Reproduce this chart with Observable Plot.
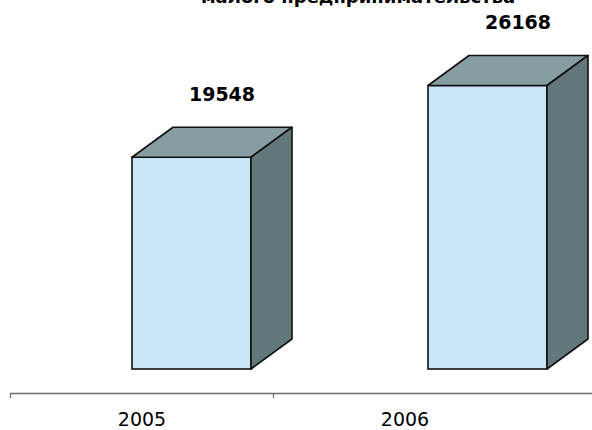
<!DOCTYPE html>
<html>
<head>
<meta charset="utf-8">
<script src="https://cdn.jsdelivr.net/npm/d3@7"></script>
<script src="https://cdn.jsdelivr.net/npm/@observablehq/plot@0.6"></script>
<style>
  html, body { margin: 0; padding: 0; background: #fff; }
  #wrap { position: relative; width: 592px; height: 430px; overflow: hidden; font-family: "DejaVu Sans", sans-serif; }
  #wrap > svg, #wrap > div.layer { position: absolute; left: 0; top: 0; }
  #title { position: absolute; left: 0; width: 716px; text-align: center; top: -14px; font: bold 18px "DejaVu Sans", sans-serif; color: #000; white-space: nowrap; line-height: normal; }
</style>
</head>
<body>
<div id="wrap"></div>
<script>
const years = ["2005", "2006"];
const values = [19548, 26168];
const titleText = "малого предпринимательства";

const data = years.map((year, i) => ({year, value: values[i]}));

const FRONT = "#c9e7f8", TOP = "#869ea2", SIDE = "#63787a", EDGE = "#111";
const DX = 41, DY = -30;

const wrap = document.getElementById("wrap");

const main = Plot.plot({
  width: 592, height: 430,
  marginTop: 0, marginBottom: 0, marginLeft: 0, marginRight: 0,
  style: {fontFamily: "DejaVu Sans", background: "transparent", overflow: "visible"},
  x: {type: "band", domain: years, range: [131, 547], paddingInner: 0.599, paddingOuter: 0, axis: null},
  y: {domain: [0, 30000], range: [369, 44], axis: null},
  marks: [
    Plot.barY(data, {x: "year", y: "value", fill: FRONT, stroke: EDGE, strokeWidth: 1.6}),
    Plot.text(data, {x: "year", y: "value", text: d => String(d.value), dx: 30, dy: -63,
      fontSize: 19, fontWeight: "bold", fill: "#000"})
  ]
});
wrap.appendChild(main);

// 3D faces drawn through the plot's own scales
const sx = main.scale("x"), sy = main.scale("y");
const g = d3.select(main).append("g");
for (const d of data) {
  const x0 = sx.apply(d.year), x1 = x0 + sx.bandwidth;
  const yt = sy.apply(d.value), yb = sy.apply(0);
  g.append("polygon")
    .attr("points", [[x0, yt], [x1, yt], [x1 + DX, yt + DY], [x0 + DX, yt + DY]].map(p => p.join(",")).join(" "))
    .attr("fill", TOP).attr("stroke", EDGE).attr("stroke-width", 1.6).attr("stroke-linejoin", "round");
  g.append("polygon")
    .attr("points", [[x1, yt], [x1 + DX, yt + DY], [x1 + DX, yb + DY], [x1, yb]].map(p => p.join(",")).join(" "))
    .attr("fill", SIDE).attr("stroke", EDGE).attr("stroke-width", 1.6).attr("stroke-linejoin", "round");
}

// category axis
const step = (536 - 10) / years.length;
const axis = Plot.plot({
  width: 592, height: 430,
  marginTop: 0, marginBottom: 37, marginLeft: 10, marginRight: 0,
  style: {fontFamily: "DejaVu Sans", fontSize: "19px", background: "transparent", overflow: "visible"},
  x: {type: "band", domain: years, range: [10, 536], padding: 0, label: null},
  y: {domain: [0, 1], range: [393, 398], axis: null},
  marks: [
    Plot.ruleY([0], {stroke: "#6e6e6e", strokeWidth: 1.3}),
    Plot.ruleX(years, {x: d => d, y1: 0, y2: 1, dx: -step / 2, stroke: "#6e6e6e", strokeWidth: 1.3}),
    Plot.axisX({tickSize: 0, tickPadding: 19, label: null, fill: "#000"})
  ]
});
wrap.appendChild(axis);

const t = document.createElement("div");
t.id = "title";
t.textContent = titleText;
wrap.appendChild(t);
</script>
</body>
</html>
